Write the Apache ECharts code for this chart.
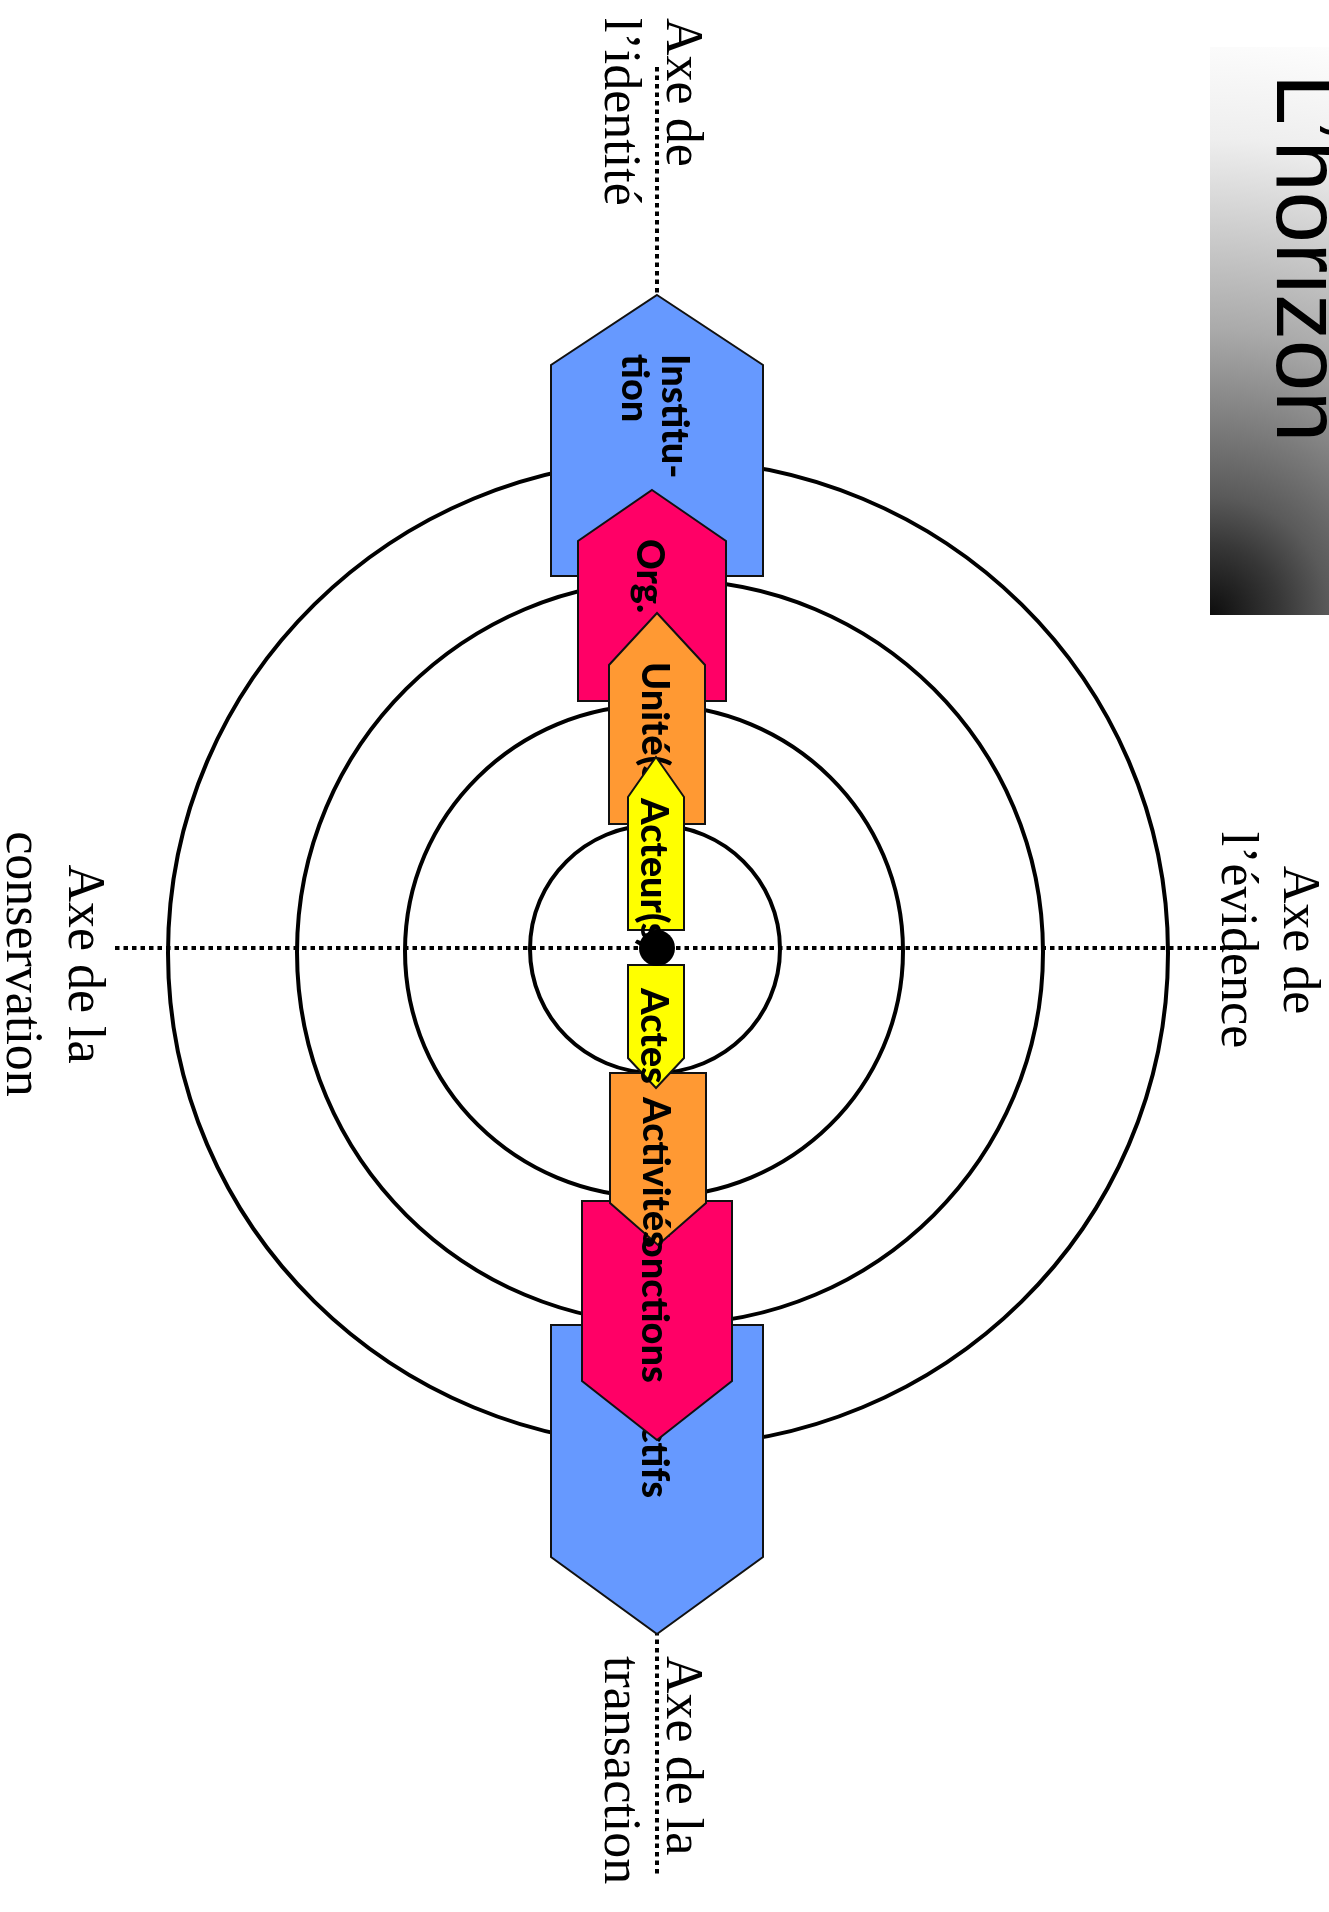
<!DOCTYPE html>
<html>
<head>
<meta charset="utf-8">
<title>L’horizon</title>
<script src="https://cdn.jsdelivr.net/npm/echarts@6/dist/echarts.min.js"></script>
<style>
  html, body { margin: 0; padding: 0; background: #fff; }
  #main { width: 1329px; height: 1912px; }
</style>
</head>
<body>
<div id="main"></div>
<script>

// rings (centre x, centre y, radius x, radius y), in page units
var ringCx = [668, 670, 654, 655];
var ringCy = [953, 952, 951, 949];
var ringRx = [500, 373, 249, 125];
var ringRy = [493, 372, 246, 124];

// dotted axes
var guideFrom = [[657, 67], [115, 948]];
var guideTo = [[657, 1877], [1240, 948]];

// arrows, drawn from the outside in
var arrowLabels = ['Institu-\ntion', 'Actifs', 'Org.', 'Fonctions', 'Unité(s)', 'Activités', 'Acteur(s)', 'Actes'];
var arrowLevel = [0, 0, 1, 1, 2, 2, 3, 3];
var arrowCx = [657, 657, 652, 657, 657, 658, 656, 656];
var arrowHalf = [106, 106, 74, 75, 48, 48, 28, 28];
var arrowTip = [295, 1634, 490, 1440, 613, 1245, 757, 1088];
var arrowShoulder = [365, 1557, 541, 1381, 665, 1203, 797, 1058];
var arrowBase = [576, 1325, 701, 1201, 824, 1073, 930, 965];
var labelStart = [354, 1398, 539, 1216, 662, 1097, 798, 988];

var levelColors = ['#6699ff', '#ff0066', '#ff9933', '#ffff00'];

// centre point
var centre = [[657, 948]];

// axis names
var axisTitles = ['Axe de\nl’identité', 'Axe de la\ntransaction', 'Axe de la\nconservation', 'Axe de\nl’évidence'];
var axisTitleX = [650, 650, 52, 1267];
var axisTitleY = [18, 1656, 964, 940];
var axisTitleAlign = ['left', 'left', 'center', 'center'];

// title box
var titleText = 'L’horizon';
var titleBox = [[1210, 47, 1329, 615]];
var titleAnchor = [1302, 74];

var chart = echarts.init(document.getElementById('main'));

var renderRing = function (params, api) {
    var c = api.coord([api.value(0), api.value(1)]);
    var s = api.size([api.value(2), api.value(3)]);
    return {
        type: 'ellipse',
        shape: { cx: c[0], cy: c[1], rx: s[0], ry: s[1] },
        style: { fill: null, stroke: '#000', lineWidth: 4 }
    };
};

var renderGuide = function (params, api) {
    var a = api.coord([api.value(0), api.value(1)]);
    var b = api.coord([api.value(2), api.value(3)]);
    return {
        type: 'line',
        shape: { x1: a[0], y1: a[1], x2: b[0], y2: b[1] },
        style: { stroke: '#000', lineWidth: 4, lineDash: [4.5, 4] }
    };
};

var renderArrow = function (params, api) {
    var i = params.dataIndex;
    var cx = api.value(0), hw = api.value(1);
    var tip = api.value(2), sh = api.value(3), base = api.value(4);
    var pts = [[cx, tip], [cx + hw, sh], [cx + hw, base], [cx - hw, base], [cx - hw, sh]].map(function (p) {
        return api.coord(p);
    });
    var anchor = api.coord([cx - 3, api.value(5)]);
    return {
        type: 'group',
        children: [{
            type: 'polygon',
            shape: { points: pts },
            style: { fill: levelColors[arrowLevel[i]], stroke: '#111', lineWidth: 2 },
            z2: i * 2
        }, {
            type: 'text',
            x: anchor[0],
            y: anchor[1],
            rotation: -Math.PI / 2,
            style: {
                text: arrowLabels[i],
                font: '900 38px Lato, "Open Sans", sans-serif',
                fill: '#000',
                textAlign: 'left',
                textVerticalAlign: 'middle',
                lineHeight: 40
            },
            z2: i * 2 + 1
        }]
    };
};

var renderAxisTitle = function (params, api) {
    var i = params.dataIndex;
    var p = api.coord([api.value(0), api.value(1)]);
    return {
        type: 'text',
        x: p[0],
        y: p[1],
        rotation: -Math.PI / 2,
        style: {
            text: axisTitles[i],
            font: '52px "Liberation Serif", "Times New Roman", serif',
            fill: '#000',
            textAlign: axisTitleAlign[i],
            textVerticalAlign: 'middle',
            lineHeight: 62
        }
    };
};

var renderTitle = function (params, api) {
    var a = api.coord([api.value(0), api.value(1)]);
    var b = api.coord([api.value(2), api.value(3)]);
    var t = api.coord(titleAnchor);
    return {
        type: 'group',
        children: [{
            type: 'rect',
            shape: { x: a[0], y: a[1], width: b[0] - a[0], height: b[1] - a[1] },
            style: {
                fill: new echarts.graphic.RadialGradient(0, 1, 5, [
                    { offset: 0, color: '#0d0d0d' },
                    { offset: 0.12, color: '#383838' },
                    { offset: 0.2, color: '#5a5a5a' },
                    { offset: 0.48, color: '#aaaaaa' },
                    { offset: 0.8, color: '#eeeeee' },
                    { offset: 1, color: '#ffffff' }
                ])
            }
        }, {
            type: 'text',
            x: t[0],
            y: t[1],
            rotation: -Math.PI / 2,
            style: {
                text: titleText,
                font: '92px "Liberation Sans", Arial, sans-serif',
                fill: '#000',
                textAlign: 'left',
                textVerticalAlign: 'middle'
            }
        }]
    };
};

var option = {
    animation: false,
    grid: { left: 0, right: 0, top: 0, bottom: 0 },
    xAxis: { type: 'value', min: 0, max: 1329, show: false },
    yAxis: { type: 'value', min: 0, max: 1912, inverse: true, show: false },
    series: [{
        type: 'custom',
        z: 1,
        silent: true,
        renderItem: renderRing,
        data: ringCx.map(function (cx, i) { return [cx, ringCy[i], ringRx[i], ringRy[i]]; })
    }, {
        type: 'custom',
        z: 1,
        silent: true,
        renderItem: renderGuide,
        data: guideFrom.map(function (a, i) { return [a[0], a[1], guideTo[i][0], guideTo[i][1]]; })
    }, {
        type: 'custom',
        z: 2,
        silent: true,
        renderItem: renderArrow,
        data: arrowCx.map(function (cx, i) {
            return [cx, arrowHalf[i], arrowTip[i], arrowShoulder[i], arrowBase[i], labelStart[i]];
        })
    }, {
        type: 'scatter',
        z: 3,
        silent: true,
        symbol: 'circle',
        symbolSize: 36,
        itemStyle: { color: '#000', opacity: 1 },
        data: centre
    }, {
        type: 'custom',
        z: 3,
        silent: true,
        renderItem: renderAxisTitle,
        data: axisTitleX.map(function (x, i) { return [x, axisTitleY[i]]; })
    }, {
        type: 'custom',
        z: 3,
        silent: true,
        renderItem: renderTitle,
        data: titleBox
    }]
};

chart.setOption(option);
</script>
</body>
</html>
